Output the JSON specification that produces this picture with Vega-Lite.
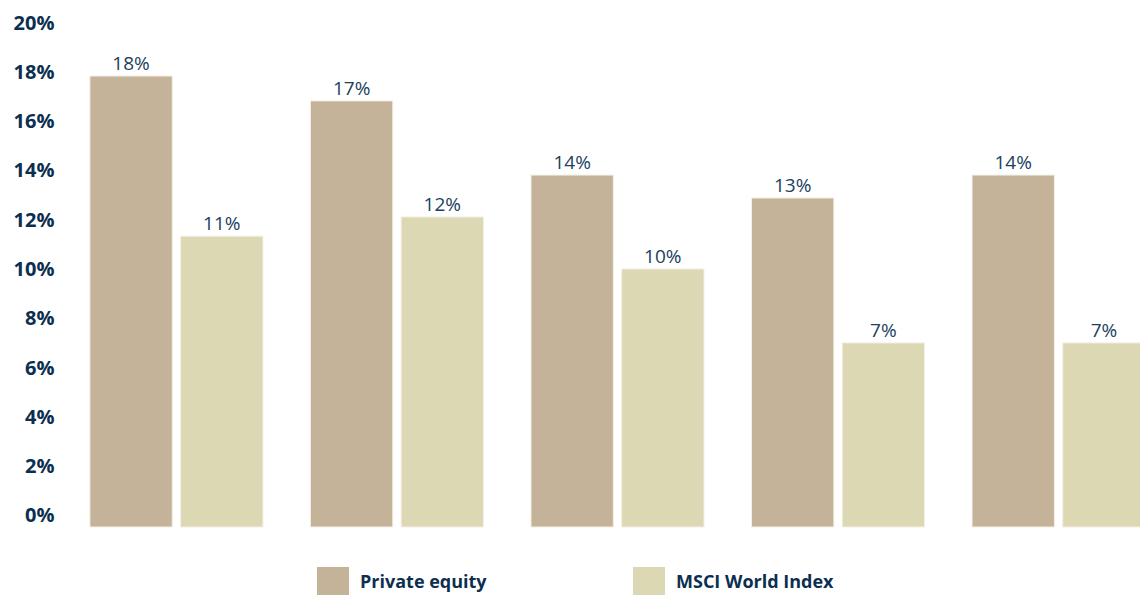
{
  "$schema": "https://vega.github.io/schema/vega-lite/v6.json",
  "autosize": {"type": "none"},
  "width": 1105,
  "height": 504,
  "padding": {"left": 65, "top": 23, "right": 0, "bottom": 68},
  "background": "white",
  "config": {
    "view": {"stroke": null},
    "font": "Open Sans"
  },
  "data": {
    "values": [
      {"group": "G1", "series": "Private equity", "value": 0.1785},
      {"group": "G1", "series": "MSCI World Index", "value": 0.1135},
      {"group": "G2", "series": "Private equity", "value": 0.1684},
      {"group": "G2", "series": "MSCI World Index", "value": 0.1213},
      {"group": "G3", "series": "Private equity", "value": 0.1383},
      {"group": "G3", "series": "MSCI World Index", "value": 0.1002},
      {"group": "G4", "series": "Private equity", "value": 0.129},
      {"group": "G4", "series": "MSCI World Index", "value": 0.0702},
      {"group": "G5", "series": "Private equity", "value": 0.1383},
      {"group": "G5", "series": "MSCI World Index", "value": 0.0702}
    ]
  },
  "encoding": {
    "x": {
      "field": "group",
      "type": "nominal",
      "axis": null,
      "scale": {"paddingInner": 0.2154, "paddingOuter": 0.113}
    },
    "xOffset": {
      "field": "series",
      "type": "nominal",
      "sort": ["Private equity", "MSCI World Index"],
      "scale": {"paddingInner": 0.092, "paddingOuter": 0}
    },
    "y": {
      "field": "value",
      "type": "quantitative",
      "scale": {"domain": [-0.0045, 0.2], "nice": false, "zero": false},
      "axis": {
        "values": [0, 0.02, 0.04, 0.06, 0.08, 0.1, 0.12, 0.14, 0.16, 0.18, 0.2],
        "format": ".0%",
        "title": null,
        "grid": false,
        "domain": false,
        "ticks": false,
        "labelPadding": 11,
        "labelFont": "Open Sans",
        "labelFontSize": 20,
        "labelFontWeight": "bold",
        "labelColor": "#0c2f50"
      }
    }
  },
  "layer": [
    {
      "mark": {"type": "bar", "stroke": "#f4efe6", "strokeWidth": 1},
      "encoding": {
        "y2": {"datum": -0.0045},
        "color": {
          "field": "series",
          "type": "nominal",
          "sort": ["Private equity", "MSCI World Index"],
          "scale": {"domain": ["Private equity", "MSCI World Index"], "range": ["#c4b399", "#dcd8b4"]},
          "legend": {
            "title": null,
            "orient": "none",
            "direction": "horizontal",
            "legendX": 252,
            "legendY": 544,
            "symbolType": "square",
            "symbolSize": 1024,
            "symbolStrokeWidth": 0,
            "symbolOpacity": 1,
            "labelFont": "Open Sans",
            "labelFontSize": 18,
            "labelFontWeight": "bold",
            "labelColor": "#0c2f50",
            "labelOffset": 11,
            "columnPadding": 146,
            "padding": 0
          }
        }
      }
    },
    {
      "mark": {"type": "text", "baseline": "alphabetic", "dy": -6, "fontSize": 19, "font": "Open Sans", "color": "#203f5d"},
      "encoding": {
        "text": {"field": "value", "type": "quantitative", "format": ".0%"}
      }
    }
  ]
}
